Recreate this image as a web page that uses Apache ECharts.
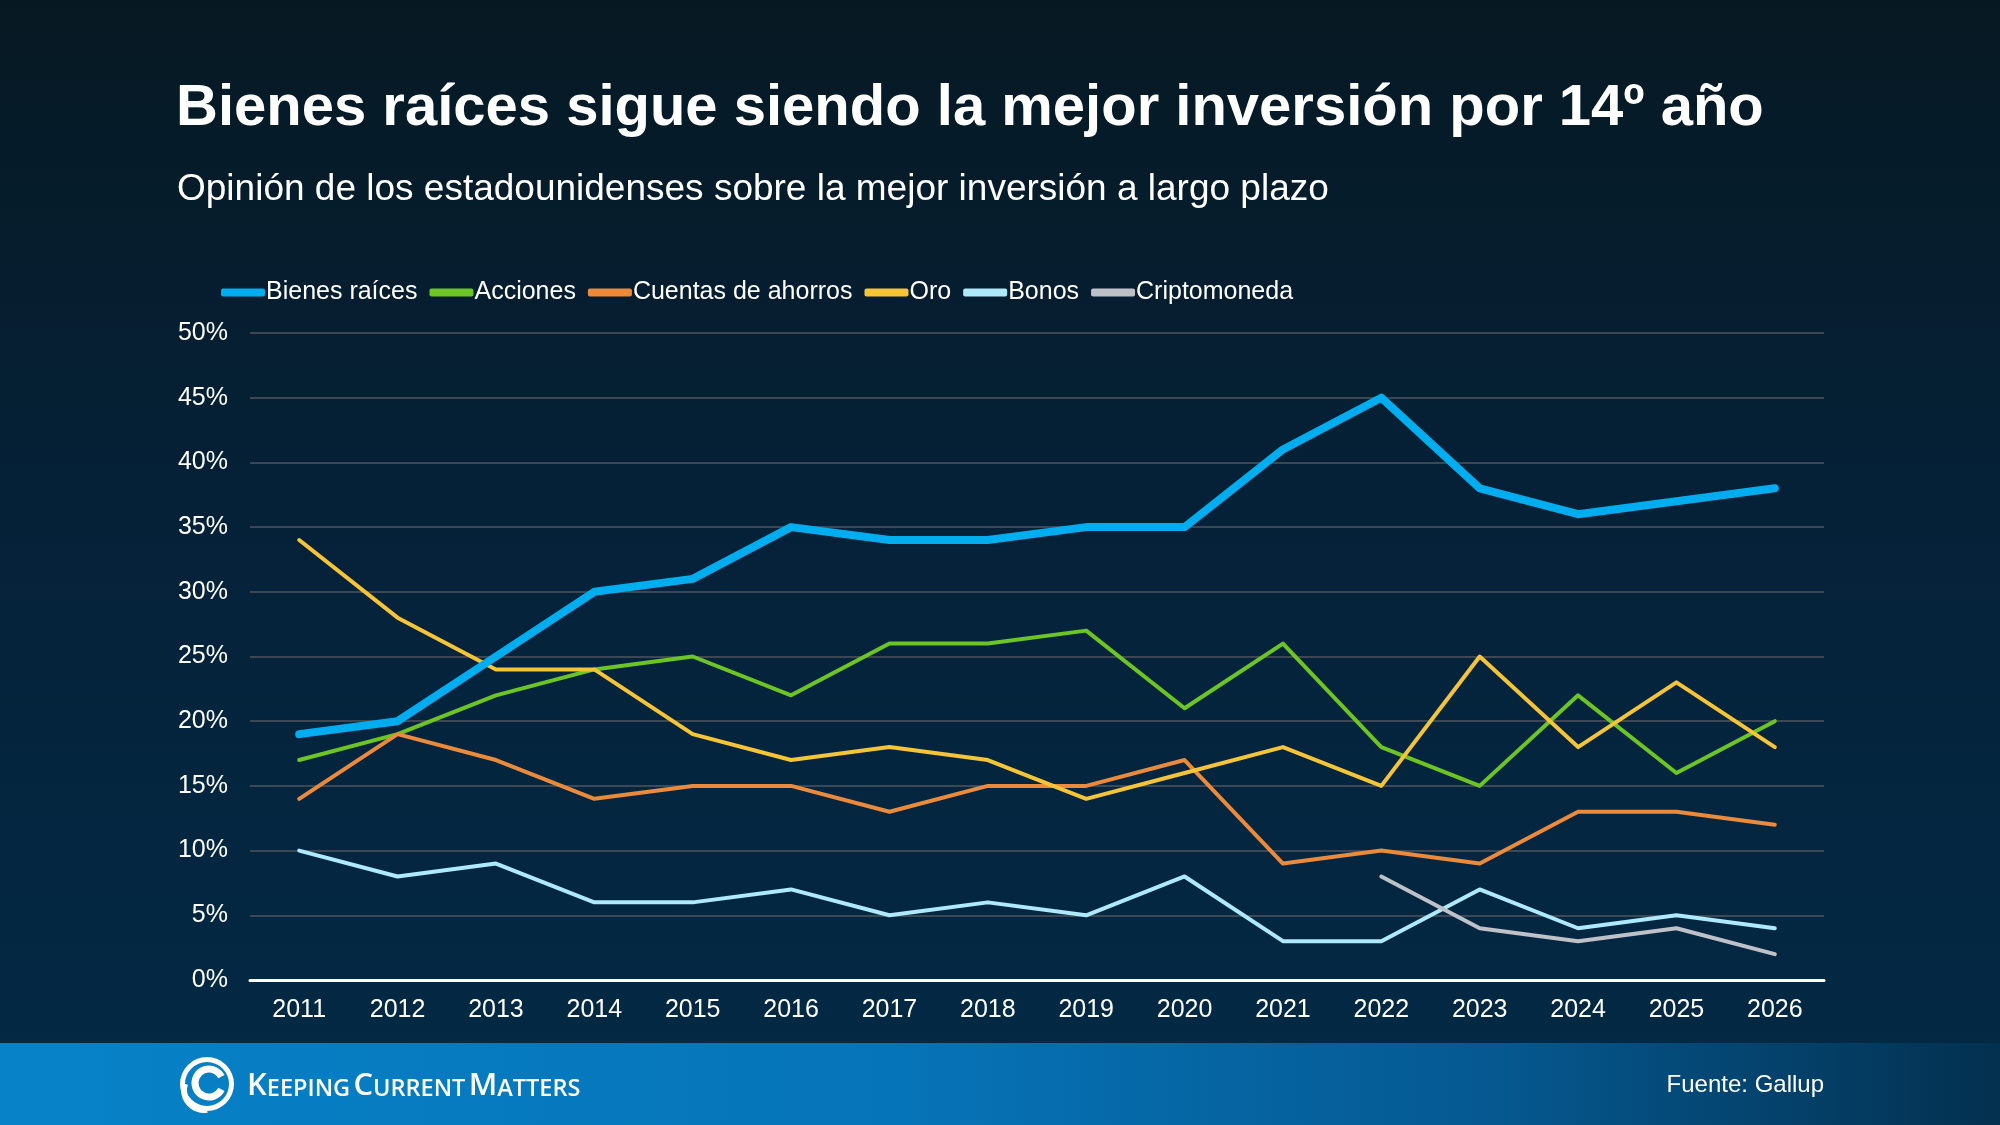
<!DOCTYPE html>
<html>
<head>
<meta charset="UTF-8">
<title>Bienes raíces</title>
<style>
  html, body { margin: 0; padding: 0; background: #05202f; }
  #main { width: 2000px; height: 1125px; }
</style>
</head>
<body>
<div id="main"></div>
<script src="https://cdn.jsdelivr.net/npm/echarts@6/dist/echarts.min.js"></script>
<script>
// data
var years = ['2011','2012','2013','2014','2015','2016','2017','2018','2019','2020','2021','2022','2023','2024','2025','2026'];
var bienesRaices = [19, 20, 25, 30, 31, 35, 34, 34, 35, 35, 41, 45, 38, 36, 37, 38];
var acciones     = [17, 19, 22, 24, 25, 22, 26, 26, 27, 21, 26, 18, 15, 22, 16, 20];
var ahorros      = [14, 19, 17, 14, 15, 15, 13, 15, 15, 17,  9, 10,  9, 13, 13, 12];
var oro          = [34, 28, 24, 24, 19, 17, 18, 17, 14, 16, 18, 15, 25, 18, 23, 18];
var bonos        = [10,  8,  9,  6,  6,  7,  5,  6,  5,  8,  3,  3,  7,  4,  5,  4];
var cripto       = [null, null, null, null, null, null, null, null, null, null, null, 8, 4, 3, 4, 2];
var yTicks = [0, 5, 10, 15, 20, 25, 30, 35, 40, 45, 50];

var font = '"Liberation Sans", Arial, Helvetica, sans-serif';

var myChart = echarts.init(document.getElementById('main'));

function line(name, data, color, width, z) {
  return {
    name: name,
    type: 'line',
    data: data,
    z: z,
    symbol: 'none',
    connectNulls: false,
    itemStyle: { color: color },
    lineStyle: { color: color, width: width, cap: 'round', join: 'round' }
  };
}

myChart.setOption({
  animation: false,
  backgroundColor: {
    type: 'linear', x: 0, y: 0, x2: 0, y2: 1,
    colorStops: [
      { offset: 0, color: '#061923' },
      { offset: 0.5, color: '#05223a' },
      { offset: 1, color: '#032a45' }
    ]
  },
  title: [
    {
      text: 'Bienes raíces sigue siendo la mejor inversión por 14º año',
      left: 171, top: 75,
      textStyle: { color: '#fff', fontFamily: font, fontWeight: 'bold', fontSize: 58 }
    },
    {
      text: 'Opinión de los estadounidenses sobre la mejor inversión a largo plazo',
      left: 172, top: 166,
      textStyle: { color: '#fff', fontFamily: font, fontWeight: 'normal', fontSize: 37 }
    }
  ],
  legend: {
    left: 216, top: 275,
    itemWidth: 44, itemHeight: 8, itemGap: 12,
    icon: 'roundRect',
    textStyle: { color: '#fff', fontFamily: font, fontSize: 25, padding: [0, 0, 0, -4] },
    data: ['Bienes raíces', 'Acciones', 'Cuentas de ahorros', 'Oro', 'Bonos', 'Criptomoneda']
  },
  grid: { left: 250, right: 176, top: 333, bottom: 145 },
  xAxis: {
    type: 'category',
    data: years,
    boundaryGap: true,
    axisLine: { lineStyle: { color: '#fff', width: 3 } },
    axisTick: { show: false },
    axisLabel: { color: '#fff', fontFamily: font, fontSize: 25, margin: 18 }
  },
  yAxis: {
    type: 'value',
    min: yTicks[0], max: yTicks[yTicks.length - 1], interval: 5,
    axisLine: { show: false },
    axisTick: { show: false },
    axisLabel: { color: '#fff', fontFamily: font, fontSize: 25, margin: 22, formatter: '{value}%' },
    splitLine: { lineStyle: { color: '#50555c', width: 1.5 } }
  },
  series: [
    line('Acciones', acciones, '#6cc524', 4, 2),
    line('Cuentas de ahorros', ahorros, '#ec8a3c', 4, 2),
    line('Oro', oro, '#f5c437', 4, 2),
    line('Bonos', bonos, '#aeeafc', 4, 2),
    line('Criptomoneda', cripto, '#bfc1c8', 4, 3),
    line('Bienes raíces', bienesRaices, '#00aeef', 8, 5)
  ],
  graphic: [
    {
      type: 'rect',
      left: 0, top: 1043, z: -1,
      shape: { width: 2000, height: 82 },
      style: {
        fill: {
          type: 'linear', x: 0, y: 0, x2: 1, y2: 0,
          colorStops: [
            { offset: 0, color: '#0782c8' },
            { offset: 0.45, color: '#0674b8' },
            { offset: 0.75, color: '#055890' },
            { offset: 1, color: '#03304f' }
          ]
        }
      }
    },
    // logo swirl
    {
      type: 'ring',
      shape: { cx: 207, cy: 1084, r: 27, r0: 22 },
      style: { fill: '#fff' }
    },
    {
      type: 'arc',
      shape: { cx: 209, cy: 1083, r: 14, startAngle: Math.PI * 0.15, endAngle: Math.PI * 1.85, clockwise: true },
      style: { stroke: '#fff', lineWidth: 7, fill: null }
    },
    {
      type: 'arc',
      shape: { cx: 204, cy: 1090, r: 20, startAngle: Math.PI * 0.45, endAngle: Math.PI * 1.1, clockwise: true },
      style: { stroke: '#fff', lineWidth: 6, fill: null }
    },
    {
      type: 'text',
      x: 247, y: 1086,
      style: {
        text: '{a|K}{b|EEPING} {a|C}{b|URRENT} {a|M}{b|ATTERS}',
        fill: '#fff',
        verticalAlign: 'middle',
        rich: {
          a: { fontFamily: '"Open Sans", sans-serif', fontWeight: 600, fontSize: 31, color: '#fff', verticalAlign: 'bottom' },
          b: { fontFamily: '"Open Sans", sans-serif', fontWeight: 600, fontSize: 23.5, color: '#fff', verticalAlign: 'bottom' }
        }
      }
    },
    {
      type: 'text',
      x: 1824, y: 1085,
      style: {
        text: 'Fuente: Gallup',
        fill: '#fff',
        font: '24px ' + font,
        align: 'right',
        verticalAlign: 'middle'
      }
    }
  ]
});
</script>
</body>
</html>
